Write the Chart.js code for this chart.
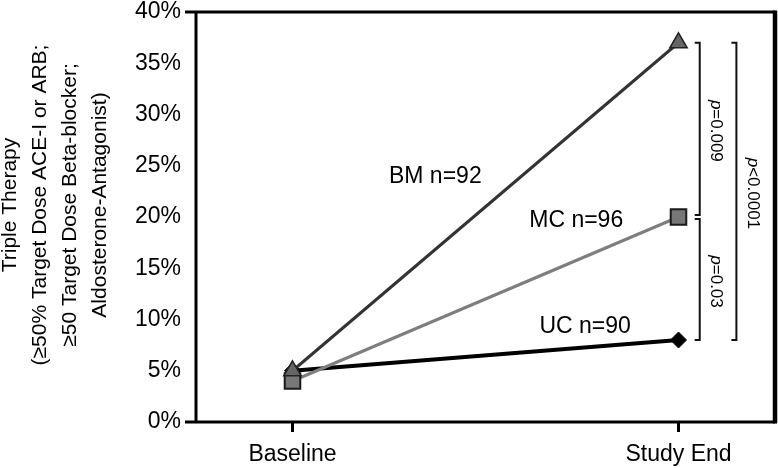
<!DOCTYPE html>
<html>
<head>
<meta charset="utf-8">
<script src="https://cdn.jsdelivr.net/npm/chart.js@4"></script>
<style>
  html, body { margin: 0; padding: 0; background: #fff; overflow: hidden; }
  #wrap { width: 778px; height: 468px; }
  canvas { display: block; }
</style>
</head>
<body>
<div id="wrap"><canvas id="therapyChart"></canvas></div>
<script>
const timepoints = ['Baseline', 'Study End'];
const groupLabels = ['BM n=92', 'MC n=96', 'UC n=90'];
const bmValues = [5, 37];
const mcValues = [4, 20];
const ucValues = [5, 8];
const yTicks = [0, 5, 10, 15, 20, 25, 30, 35, 40];
const yTitle = ['Triple Therapy', '(\u226550% Target Dose ACE-I or ARB;', '\u226550 Target Dose Beta-blocker;', 'Aldosterone-Antagonist)'];
const pLabels = ['p=0.009', 'p=0.03', 'p<0.0001'];

const FONT = '"Liberation Sans", Arial, Helvetica, sans-serif';

function toPoints(values) {
    return values.map((v, i) => ({ x: i, y: v }));
}

// where the group names sit (data units)
const groupLabelPos = [
    { x: 0.37, y: 23.9 },
    { x: 0.735, y: 19.6 },
    { x: 0.758, y: 9.3 }
];

const extras = {
    id: 'extras',
    beforeDatasetsDraw(chart) {
        const { ctx, chartArea: a } = chart;
        ctx.save();
        ctx.strokeStyle = '#000';
        ctx.lineWidth = 3;
        ctx.beginPath();
        ctx.moveTo(a.left - 11, a.top);
        ctx.lineTo(a.right, a.top);
        ctx.moveTo(a.right, a.bottom);
        ctx.lineTo(a.left - 11, a.bottom);
        ctx.moveTo(a.left, a.top);
        ctx.lineTo(a.left, a.bottom);
        ctx.stroke();
        // right edge is a bit heavier in the original
        ctx.lineWidth = 4.5;
        ctx.beginPath();
        ctx.moveTo(a.right, a.top - 1.5);
        ctx.lineTo(a.right, a.bottom + 1.5);
        ctx.stroke();
        ctx.restore();
    },
    afterDatasetsDraw(chart) {
        const { ctx, chartArea: a, scales } = chart;
        const xs = scales.x, ys = scales.y;
        ctx.save();

        // group names
        ctx.fillStyle = '#000';
        ctx.font = '23px ' + FONT;
        ctx.textAlign = 'center';
        ctx.textBaseline = 'middle';
        groupLabels.forEach((t, i) => {
            ctx.fillText(t, xs.getPixelForValue(groupLabelPos[i].x), ys.getPixelForValue(groupLabelPos[i].y));
        });

        // significance brackets
        const end = timepoints.length - 1;
        const brackets = [
            { x: 1.055, from: bmValues[end], to: mcValues[end] + 0.2, label: pLabels[0] },
            { x: 1.055, from: mcValues[end] - 0.2, to: ucValues[end], label: pLabels[1] },
            { x: 1.15, from: bmValues[end], to: ucValues[end], label: pLabels[2] }
        ];
        ctx.strokeStyle = '#111';
        ctx.lineWidth = 2;
        brackets.forEach(b => {
            const px = xs.getPixelForValue(b.x);
            const y1 = ys.getPixelForValue(b.from);
            const y2 = ys.getPixelForValue(b.to);
            ctx.beginPath();
            ctx.moveTo(px - 5, y1);
            ctx.lineTo(px, y1);
            ctx.lineTo(px, y2);
            ctx.lineTo(px - 5, y2);
            ctx.stroke();

            ctx.save();
            ctx.translate(px + 16, (y1 + y2) / 2 + 2);
            ctx.rotate(Math.PI / 2);
            ctx.textBaseline = 'middle';
            ctx.textAlign = 'left';
            ctx.fillStyle = '#000';
            const first = b.label.charAt(0);
            const rest = b.label.slice(1);
            ctx.font = 'italic 17px ' + FONT;
            const w1 = ctx.measureText(first).width;
            ctx.font = '17px ' + FONT;
            const w2 = ctx.measureText(rest).width;
            const start = -(w1 + w2) / 2;
            ctx.font = 'italic 17px ' + FONT;
            ctx.fillText(first, start, 0);
            ctx.font = '17px ' + FONT;
            ctx.fillText(rest, start + w1, 0);
            ctx.restore();
        });

        // y axis title
        ctx.save();
        ctx.translate(0, (a.top + a.bottom) / 2 - 12);
        ctx.rotate(-Math.PI / 2);
        ctx.fillStyle = '#000';
        ctx.font = '21px ' + FONT;
        ctx.textAlign = 'center';
        ctx.textBaseline = 'middle';
        yTitle.forEach((line, i) => {
            ctx.fillText(line, 0, 10 + i * 30);
        });
        ctx.restore();

        ctx.restore();
    }
};

const ctx = document.getElementById('therapyChart').getContext('2d');
const therapyChart = new Chart(ctx, {
    type: 'line',
    data: {
        datasets: [
            {
                label: groupLabels[0],
                data: toPoints(bmValues),
                borderColor: '#333',
                borderWidth: 3,
                pointStyle: 'triangle',
                pointRadius: 10,
                pointBackgroundColor: '#666',
                pointBorderColor: '#222',
                pointBorderWidth: 1.5
            },
            {
                label: groupLabels[1],
                data: toPoints(mcValues),
                borderColor: '#7e7e7e',
                borderWidth: 3,
                pointStyle: 'rect',
                pointRadius: 11,
                pointBackgroundColor: '#777',
                pointBorderColor: '#1a1a1a',
                pointBorderWidth: 2
            },
            {
                label: groupLabels[2],
                data: toPoints(ucValues),
                borderColor: '#000',
                borderWidth: 4,
                pointStyle: 'rectRot',
                pointRadius: 8,
                pointBackgroundColor: '#000',
                pointBorderColor: '#000',
                pointBorderWidth: 1
            }
        ]
    },
    options: {
        responsive: true,
        maintainAspectRatio: false,
        animation: false,
        layout: {
            autoPadding: false,
            padding: { top: 12, right: 3, bottom: 0, left: 0 }
        },
        plugins: {
            legend: { display: false },
            tooltip: { enabled: false }
        },
        scales: {
            x: {
                type: 'linear',
                min: -0.25,
                max: 1.25,
                afterBuildTicks: scale => {
                    scale.ticks = timepoints.map((_, i) => ({ value: i }));
                },
                afterFit: scale => {
                    scale.height = 46;
                    scale.paddingLeft = 0;
                    scale.paddingRight = 0;
                },
                border: { display: false },
                grid: {
                    drawOnChartArea: false,
                    drawTicks: true,
                    tickLength: 10,
                    lineWidth: 3,
                    color: '#000'
                },
                ticks: {
                    color: '#000',
                    font: { family: FONT, size: 23 },
                    padding: 9,
                    maxRotation: 0,
                    callback: v => timepoints[v]
                }
            },
            y: {
                min: 0,
                max: 40,
                afterBuildTicks: scale => {
                    scale.ticks = yTicks.map(v => ({ value: v }));
                },
                afterFit: scale => {
                    scale.width = 196;
                    scale.paddingTop = 0;
                    scale.paddingBottom = 0;
                },
                border: { display: false },
                grid: { display: false, drawTicks: false },
                ticks: {
                    color: '#000',
                    font: { family: FONT, size: 23 },
                    padding: 15,
                    callback: v => v + '%'
                }
            }
        }
    },
    plugins: [extras]
});
</script>
</body>
</html>
